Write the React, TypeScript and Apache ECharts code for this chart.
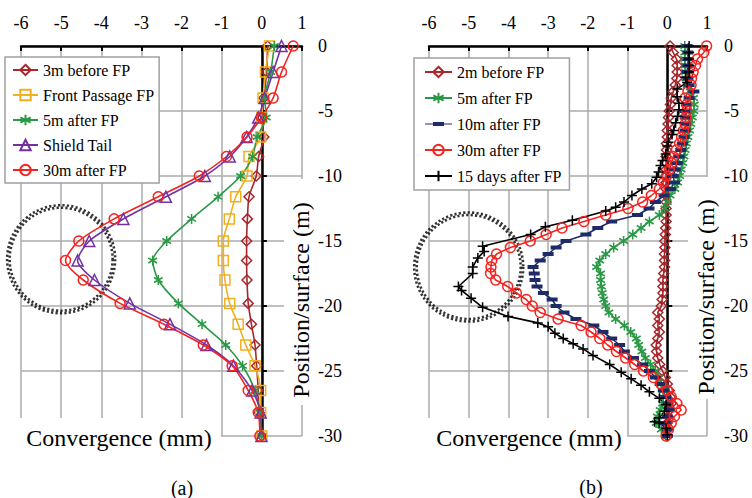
import React, { useEffect, useRef } from 'react';
import * as echarts from 'echarts';

const FONT = 'Liberation Serif';

// ---------- Chart (a) ----------
const leftNames = ['3m before FP', 'Front Passage FP', '5m after FP', 'Shield Tail', '30m after FP'];
const leftDepth = [0, -2, -4, -5.5, -7, -8.5, -10, -11.6, -13.3, -15, -16.5, -18, -19.8, -21.4, -23, -24.6, -26.5, -28.2, -30];
const a3mBefore = [0.14, 0.12, 0.05, 0.0, 0.05, -0.08, -0.14, -0.32, -0.36, -0.38, -0.38, -0.37, -0.34, -0.26, -0.17, -0.13, -0.09, -0.07, 0];
const aFrontPassage = [0.19, 0.09, 0.03, 0.0, -0.03, -0.32, -0.37, -0.65, -0.81, -0.96, -0.96, -0.92, -0.8, -0.59, -0.4, -0.17, -0.03, -0.03, 0];
const a5mAfter = [0.31, 0.22, 0.07, 0.11, -0.12, -0.23, -0.53, -1.09, -1.75, -2.37, -2.72, -2.58, -2.08, -1.49, -0.9, -0.48, -0.17, -0.05, 0];
const aShieldTail = [0.49, 0.28, 0.07, -0.09, -0.38, -0.8, -1.42, -2.39, -3.45, -4.3, -4.59, -4.17, -3.29, -2.29, -1.38, -0.71, -0.24, -0.03, -0.01];
const a30mAfter = [0.78, 0.49, 0.28, -0.01, -0.37, -0.88, -1.56, -2.58, -3.68, -4.56, -4.89, -4.45, -3.53, -2.44, -1.46, -0.74, -0.34, -0.09, -0.05];
const aRingCenter = [-5, -16.4];

// ---------- Chart (b) ----------
const rightNames = ['2m before FP', '5m after FP', '10m after FP', '30m after FP', '15 days after FP'];
const rightDepth = [
  0, -0.5, -1, -1.5, -2, -2.5, -3, -3.5, -4, -4.5,
  -5, -5.5, -6, -6.5, -7, -7.5, -8, -8.5, -9, -9.5,
  -10, -10.5, -11, -11.5, -12, -12.5, -13, -13.5, -14, -14.5,
  -15, -15.5, -16, -16.5, -17, -17.5, -18, -18.5, -19, -19.5,
  -20, -20.5, -21, -21.5, -22, -22.5, -23, -23.5, -24, -24.5,
  -25, -25.5, -26, -26.5, -27, -27.5, -28, -28.5, -29, -29.5,
  -30,
];
const b2mBefore = [
  0.07, 0.15, 0.23, 0.25, 0.25, 0.24, 0.2, 0.15, 0.1, 0.08,
  0.05, 0.03, 0.02, 0.0, 0.0, -0.02, -0.02, -0.03, -0.03, -0.03,
  -0.03, -0.03, -0.03, -0.03, -0.03, -0.03, -0.03, -0.03, -0.04, -0.05,
  -0.06, -0.06, -0.07, -0.07, -0.07, -0.09, -0.11, -0.11, -0.11, -0.13,
  -0.15, -0.24, -0.2, -0.24, -0.2, -0.24, -0.28, -0.27, -0.24, -0.19,
  -0.12, -0.05, 0.0, 0.05, 0.08, 0.1, 0.06, 0.02, 0.0, 0.0,
  0.0,
];
const b5mAfter = [
  0.44, 0.44, 0.44, 0.45, 0.46, 0.47, 0.5, 0.58, 0.66, 0.68,
  0.67, 0.63, 0.59, 0.56, 0.52, 0.48, 0.45, 0.42, 0.39, 0.35,
  0.31, 0.26, 0.19, 0.07, 0.0, -0.06, -0.2, -0.45, -0.66, -0.87,
  -1.1, -1.35, -1.55, -1.7, -1.78, -1.68, -1.68, -1.66, -1.64, -1.6,
  -1.55, -1.47, -1.3, -1.08, -0.92, -0.78, -0.72, -0.64, -0.55, -0.42,
  -0.3, -0.21, -0.15, -0.09, -0.1, -0.12, -0.18, -0.25, -0.28, -0.15,
  0.0,
];
const b10mAfter = [
  0.5, 0.52, 0.52, 0.52, 0.5, 0.52, 0.55, 0.67, 0.55, 0.48,
  0.45, 0.45, 0.46, 0.45, 0.42, 0.38, 0.34, 0.3, 0.25, 0.2,
  0.15, 0.18, 0.08, -0.08, -0.3, -0.46, -0.75, -1.4, -1.75, -2.05,
  -2.55, -2.8, -3.0, -3.2, -3.38, -3.35, -3.33, -3.28, -3.12, -2.9,
  -2.8, -2.6, -2.3, -1.85, -1.62, -1.4, -1.2, -1.08, -0.85, -0.62,
  -0.45, -0.3, -0.18, -0.1, -0.04, 0.02, 0.05, 0.0, -0.05, 0.0,
  0.0,
];
const b30mAfter = [
  0.99, 0.92, 0.76, 0.71, 0.65, 0.61, 0.6, 0.52, 0.45, 0.49,
  0.49, 0.47, 0.45, 0.41, 0.36, 0.31, 0.23, 0.15, 0.11, 0.05,
  -0.02, -0.1, -0.2, -0.4, -0.62, -0.99, -1.55, -2.1, -2.65, -3.05,
  -3.45, -3.95, -4.3, -4.42, -4.44, -4.45, -4.32, -4.02, -3.8, -3.55,
  -3.4, -3.2, -2.75, -2.17, -1.92, -1.7, -1.5, -1.28, -1.05, -0.82,
  -0.6, -0.35, -0.16, 0.0, 0.1, 0.24, 0.35, 0.18, 0.1, 0.03,
  -0.03,
];
const b15dDepth = [
  0, -0.5, -1, -1.5, -2, -2.4, -2.8, -3.3, -3.9, -4.4,
  -4.9, -5.4, -5.9, -6.5, -6.8, -7.4, -7.7, -8.3, -8.8, -9.2,
  -9.7, -10.1, -10.6, -11.0, -11.5, -12.0, -12.4, -12.7, -13.4, -13.9,
  -14.5, -15.4, -15.8, -16.3, -17.0, -17.5, -18.5, -18.8, -19.4, -20.1,
  -20.8, -21.3, -21.6, -22.1, -22.5, -22.9, -23.3, -23.8, -24.5, -25.1,
  -25.6, -26.1, -26.6, -27.1, -27.6, -28.1, -28.6, -28.9, -29.0, -29.4,
  -29.9,
];
const b15dAfter = [
  0.55, 0.55, 0.55, 0.56, 0.55, 0.46, 0.5, 0.25, 0.25, 0.29,
  0.29, 0.26, 0.21, 0.16, 0.12, 0.03, 0.0, -0.04, -0.12, -0.17,
  -0.22, -0.27, -0.39, -0.64, -0.89, -1.09, -1.3, -1.55, -2.39, -3.07,
  -3.44, -4.65, -4.61, -4.77, -4.9, -4.9, -5.26, -5.18, -4.94, -4.65,
  -4.01, -3.26, -3.0, -2.83, -2.62, -2.37, -2.12, -1.87, -1.45, -1.16,
  -0.91, -0.66, -0.45, -0.2, -0.03, -0.07, -0.2, -0.32, -0.2, -0.03,
  0.0,
];
const bRingCenter = [-5, -17.0];

const xMin = -6;
const xMax = 1;
const yMin = -30;
const yMax = 0;

const C = {
  darkRed: '#A8262C',
  orange: '#F2B01E',
  green: '#2A9945',
  purple: '#7231A3',
  red: '#F5231F',
  navy: '#1F2B66',
  black: '#000000',
  grid: '#ababab',
};

const ASTERISK = 'path://M0,-5 L0,5 M-4.33,-2.5 L4.33,2.5 M-4.33,2.5 L4.33,-2.5';
const PLUS = 'path://M-5,0 L5,0 M0,-5 L0,5';
const NAVY_ICON = 'path://M0,1.4 L27,1.4 L27,2.6 L0,2.6 Z M8,0 L19,0 L19,4 L8,4 Z';

function pairs(xs: number[], ys: number[]) {
  return ys.map((y, i) => [xs[i], y]);
}

function lineSeries(name: string, xs: number[], ys: number[], grid: number, color: string, symbol: string, size: any, hollow: boolean, smooth: boolean) {
  return {
    type: 'line',
    name,
    xAxisIndex: grid,
    yAxisIndex: grid * 2,
    data: pairs(xs, ys),
    smooth: smooth ? 0.25 : false,
    symbol,
    symbolSize: size,
    symbolKeepAspect: true,
    showSymbol: true,
    showAllSymbol: true,
    lineStyle: { color, width: 1.6 },
    itemStyle: hollow
      ? { color: 'rgba(255,255,255,0)', borderColor: color, borderWidth: 1.5 }
      : { color, borderColor: color, borderWidth: 0 },
    emphasis: { disabled: true },
  };
}

function ringSeries(grid: number, center: number[], d: number) {
  const ring = (size: number, offset: number) => ({
    value: center,
    symbolSize: size,
    itemStyle: {
      color: 'rgba(0,0,0,0)',
      borderColor: '#000',
      borderWidth: 2.6,
      borderType: [2.2, 2.2],
      borderDashOffset: offset,
    },
  });
  return {
    type: 'scatter',
    name: 'ring' + grid,
    xAxisIndex: grid,
    yAxisIndex: grid * 2,
    symbol: 'circle',
    data: [ring(d - 3, 0), ring(d + 2, 2.2)],
    silent: true,
    z: 1,
  };
}

function xAxis(grid: number) {
  return {
    type: 'value',
    gridIndex: grid,
    position: 'top',
    min: xMin,
    max: xMax,
    interval: 1,
    axisLine: { show: true, onZero: false, lineStyle: { color: '#000', width: 2.5 } },
    axisTick: { show: true, inside: true, length: 5, lineStyle: { color: '#000', width: 2 } },
    axisLabel: { margin: 14, fontSize: 18, color: '#000', fontFamily: FONT },
    splitLine: { show: true, lineStyle: { color: C.grid, width: 1.5 } },
  };
}

function yAxes(grid: number, labelMargin: number) {
  return [
    {
      type: 'value',
      gridIndex: grid,
      position: 'right',
      min: yMin,
      max: yMax,
      interval: 5,
      axisLine: { show: true, onZero: true, lineStyle: { color: '#000', width: 2.5 } },
      axisTick: { show: true, length: 5, lineStyle: { color: '#000', width: 2 } },
      axisLabel: { show: false },
      splitLine: { show: true, lineStyle: { color: C.grid, width: 1.5 } },
    },
    {
      type: 'value',
      gridIndex: grid,
      position: 'right',
      min: yMin,
      max: yMax,
      interval: 5,
      axisLine: { show: false, onZero: false },
      axisTick: { show: false },
      axisLabel: { margin: labelMargin, fontSize: 18, color: '#000', fontFamily: FONT },
      splitLine: { show: false },
    },
  ];
}

function whiteBox(x: number, y: number, w: number, h: number) {
  return {
    type: 'rect',
    z: 99,
    silent: true,
    shape: { x, y, width: w, height: h },
    style: { fill: '#fff' },
  };
}

function hText(text: string, x: number, y: number, size: number) {
  return {
    type: 'text',
    x,
    y,
    z: 100,
    style: { text, fontSize: size, fontFamily: FONT, fill: '#000', align: 'center', verticalAlign: 'middle' },
  };
}

function vText(text: string, x: number, y: number, size: number) {
  return {
    type: 'text',
    x,
    y,
    rotation: Math.PI / 2,
    z: 100,
    style: { text, fontSize: size, fontFamily: FONT, fill: '#000', align: 'center', verticalAlign: 'middle' },
  };
}

function legend(names: string[], left: number, top: number, itemWidth: number, padding: number[], gap: number) {
  return {
    orient: 'vertical',
    left,
    top,
    data: names.map((n) => (n === '10m after FP' ? { name: n, icon: NAVY_ICON } : { name: n })),
    backgroundColor: '#fff',
    borderColor: '#a0a0a0',
    borderWidth: 1.5,
    padding,
    itemWidth,
    itemHeight: 13,
    itemGap: gap,
    textStyle: { fontSize: 16, fontFamily: FONT, color: '#000' },
  };
}

export default function App() {
  const ref = useRef<HTMLDivElement>(null);
  useEffect(() => {
    if (!ref.current) return;
    const chart = echarts.init(ref.current, undefined, { renderer: 'svg' });
    const option: any = {
      animation: false,
      backgroundColor: '#fff',
      grid: [
        { left: 21, top: 46, width: 281, height: 390 },
        { left: 429, top: 46, width: 278, height: 390 },
      ],
      xAxis: [xAxis(0), xAxis(1)],
      yAxis: [...yAxes(0, 16), ...yAxes(1, 17)],
      legend: [
        legend(leftNames, 5, 57, 25, [5, 5, 5, 7], 9),
        legend(rightNames, 414, 58, 27, [6, 8, 6, 10], 10),
      ],
      series: [
        ringSeries(0, aRingCenter, 106),
        lineSeries(leftNames[0], a3mBefore, leftDepth, 0, C.darkRed, 'diamond', 10, true, true),
        lineSeries(leftNames[1], aFrontPassage, leftDepth, 0, C.orange, 'rect', 10, true, true),
        lineSeries(leftNames[2], a5mAfter, leftDepth, 0, C.green, ASTERISK, 10, true, true),
        lineSeries(leftNames[3], aShieldTail, leftDepth, 0, C.purple, 'triangle', 11, true, true),
        lineSeries(leftNames[4], a30mAfter, leftDepth, 0, C.red, 'circle', 10, true, true),
        ringSeries(1, bRingCenter, 107),
        lineSeries(rightNames[0], b2mBefore, rightDepth, 1, C.darkRed, 'diamond', 10, true, false),
        lineSeries(rightNames[1], b5mAfter, rightDepth, 1, C.green, ASTERISK, 10, true, false),
        lineSeries(rightNames[2], b10mAfter, rightDepth, 1, C.navy, 'rect', [11, 4], false, false),
        lineSeries(rightNames[3], b30mAfter, rightDepth, 1, C.red, 'circle', 10, true, false),
        lineSeries(rightNames[4], b15dAfter, b15dDepth, 1, C.black, PLUS, 10, true, false),
      ],
      graphic: [
        whiteBox(18, 418, 203, 40),
        whiteBox(426, 418, 201, 40),
        whiteBox(284, 179, 33, 226),
        whiteBox(688, 177, 34, 222),
        hText('Convergence (mm)', 119, 438, 24),
        hText('Convergence (mm)', 529, 438, 24),
        vText('Position/surface (m)', 301, 300, 24),
        vText('Position/surface (m)', 706, 297, 24),
        hText('(a)', 182, 488, 20),
        hText('(b)', 591, 487, 20),
      ],
    };
    chart.setOption(option);
    return () => chart.dispose();
  }, []);
  return (
    <div
      ref={ref}
      style={{ position: 'fixed', left: 0, top: 0, width: 752, height: 498, background: '#fff', fontFamily: 'Liberation Serif' }}
    />
  );
}
